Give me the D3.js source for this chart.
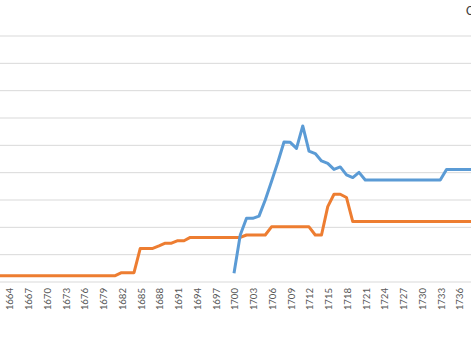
<!DOCTYPE html>
<html>
<head>
<meta charset="utf-8">
<script src="https://cdn.jsdelivr.net/npm/d3@7/dist/d3.min.js"></script>
<style>
html,body{margin:0;padding:0;background:#fff;overflow:hidden;}
svg{display:block;}
</style>
</head>
<body>
<script>
// ---- data ----
const years = d3.range(1660, 1739);
const tickYears = d3.range(1664, 1739, 3);
const orangeYears = d3.range(1660, 1739);
const orangeValues = [
  2.3,2.3,2.3,2.3,2.3,2.3,2.3,2.3,2.3,2.3, // 1660-1669
  2.3,2.3,2.3,2.3,2.3,2.3,2.3,2.3,2.3,2.3, // 1670-1679
  2.3,2.3,3.4,3.4,3.4,12.3,12.3,12.3,13.2,14.2, // 1680-1689
  14.2,15.1,15.1,16.3,16.3,16.3,16.3,16.3,16.3,16.3, // 1690-1699
  16.3,16.3,17.2,17.2,17.2,17.2,20.2,20.2,20.2,20.2, // 1700-1709
  20.2,20.2,20.2,17.2,17.2,27.6,32.1,32.1,30.9,22.1, // 1710-1719
  22.1,22.1,22.1,22.1,22.1,22.1,22.1,22.1,22.1,22.1, // 1720-1729
  22.1,22.1,22.1,22.1,22.1,22.1,22.1,22.1,22.1       // 1730-1738
];
const blueYears = d3.range(1700, 1739);
const blueValues = [
  3.2,17.2,23.3,23.3,24.1,30.0,36.8,43.7,51.2,51.1, // 1700-1709
  48.9,57.1,47.9,47.0,44.3,43.4,41.2,42.1,39.2,38.2, // 1710-1719
  40.1,37.3,37.3,37.3,37.3,37.3,37.3,37.3,37.3,37.3, // 1720-1729
  37.3,37.3,37.3,37.3,41.2,41.2,41.2,41.2,41.2       // 1730-1738
];
const gridValues = d3.range(10, 91, 10);
const partialLabel = "C";

// ---- layout ----
const W = 471, H = 345;
const svg = d3.select("body").append("svg").attr("width", W).attr("height", H);

const x = d3.scalePoint().domain(years).range([-16, 471.5]);
const y = d3.scaleLinear().domain([0, 90]).range([282, 36]);

// gridlines
svg.append("g").selectAll("line").data(gridValues).join("line")
  .attr("x1", 0).attr("x2", W)
  .attr("y1", d => y(d)).attr("y2", d => y(d))
  .attr("stroke", "#d9d9d9").attr("stroke-width", 1);

// x axis
const xAxis = d3.axisBottom(x).tickValues(tickYears).tickSize(0).tickPadding(0);
const gx = svg.append("g").attr("transform", `translate(0,${y(0)})`).call(xAxis);
gx.select(".domain").remove();
gx.append("line").attr("x1", 0).attr("x2", W).attr("y1", 0).attr("y2", 0)
  .attr("stroke", "#d9d9d9").attr("stroke-width", 1);
gx.selectAll(".tick text")
  .attr("transform", "translate(0,6) rotate(-90)")
  .attr("text-anchor", "end")
  .attr("x", 0).attr("y", 0).attr("dy", "0.35em")
  .attr("fill", "#595959")
  .style("font-family", "Calibri, Carlito, 'Liberation Sans', sans-serif")
  .style("font-size", "11px");

// lines
const line = d3.line().x(d => x(d[0])).y(d => y(d[1]));
svg.append("path")
  .datum(orangeYears.map((yr, i) => [yr, orangeValues[i]]))
  .attr("d", line).attr("fill", "none")
  .attr("stroke", "#ed7d31").attr("stroke-width", 3).attr("stroke-linejoin", "round");
svg.append("path")
  .datum(blueYears.map((yr, i) => [yr, blueValues[i]]))
  .attr("d", line).attr("fill", "none")
  .attr("stroke", "#5b9bd5").attr("stroke-width", 3).attr("stroke-linejoin", "round");

// partial title at top right
svg.append("text").attr("x", 466).attr("y", 15)
  .attr("fill", "#404040")
  .style("font-family", "Calibri, Carlito, 'Liberation Sans', sans-serif")
  .style("font-size", "14px")
  .text(partialLabel);
</script>
</body>
</html>
